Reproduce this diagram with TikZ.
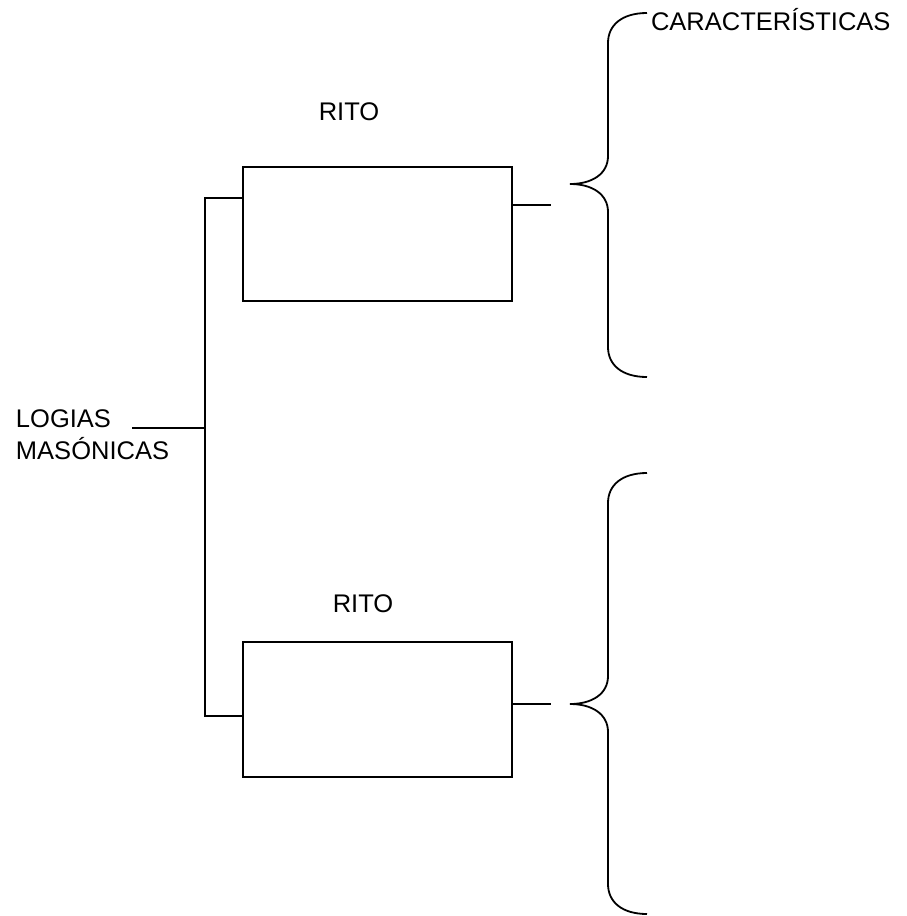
\documentclass[tikz,border=0pt]{standalone}
\usepackage{fontspec}
\setmainfont{Liberation Sans}
\usepackage{tikz}
\usetikzlibrary{positioning,calc}
\tikzset{
  ritobox/.style={draw, line width=2pt, minimum width=269pt, minimum height=134pt, inner sep=0pt},
  lbl/.style={inner sep=0pt, font=\fontsize{25.5}{32}\selectfont},
}
\newcommand{\spinebrace}[3]{%
  \draw[line width=1.8pt] (647,#1) .. controls (622,#1) and (608,#1+12) .. (608,#1+30)
    -- (608,#2-28) .. controls (608,#2-10) and (592,#2) .. (570,#2)
    .. controls (592,#2) and (608,#2+10) .. (608,#2+28)
    -- (608,#3-30) .. controls (608,#3-12) and (622,#3) .. (647,#3);%
}

\begin{document}
\begin{tikzpicture}[x=1pt, y=-1pt, line width=2pt]
  \useasboundingbox (0,0) rectangle (906,916);
  % boxes and titles
  \node[ritobox] (rito1) at (377.5,233.5) {};
  \node[ritobox, minimum height=135pt] (rito2) at (377.5,709.5) {};
  \node[lbl] (rito1t) at (349,112) {RITO};
  \node[lbl] (rito2t) at (363,604) {RITO};
  % left labels
  \node[lbl, anchor=base west] (logias) at (15,427) {LOGIAS};
  \node[lbl, anchor=base west] (masonicas) at ([yshift=-32pt]logias.base west) {MASÓNICAS};
  \coordinate (trunk) at (205,428);
  % connectors
  \draw (trunk) -- ([xshift=20pt]logias.base east |- trunk);
  \draw ([yshift=36pt]rito1.west) -| (trunk) |- ([yshift=-6.5pt]rito2.west);
  \draw ([yshift=29pt]rito1.east) -- ++(38,0);
  \draw ([yshift=5.5pt]rito2.east) -- ++(38,0);
  % braces
  \spinebrace{13}{184}{377}
  \spinebrace{473}{704}{914}
  \node[lbl, anchor=base west] (carac) at (650,30) {CARACTERÍSTICAS};
\end{tikzpicture}
\end{document}
